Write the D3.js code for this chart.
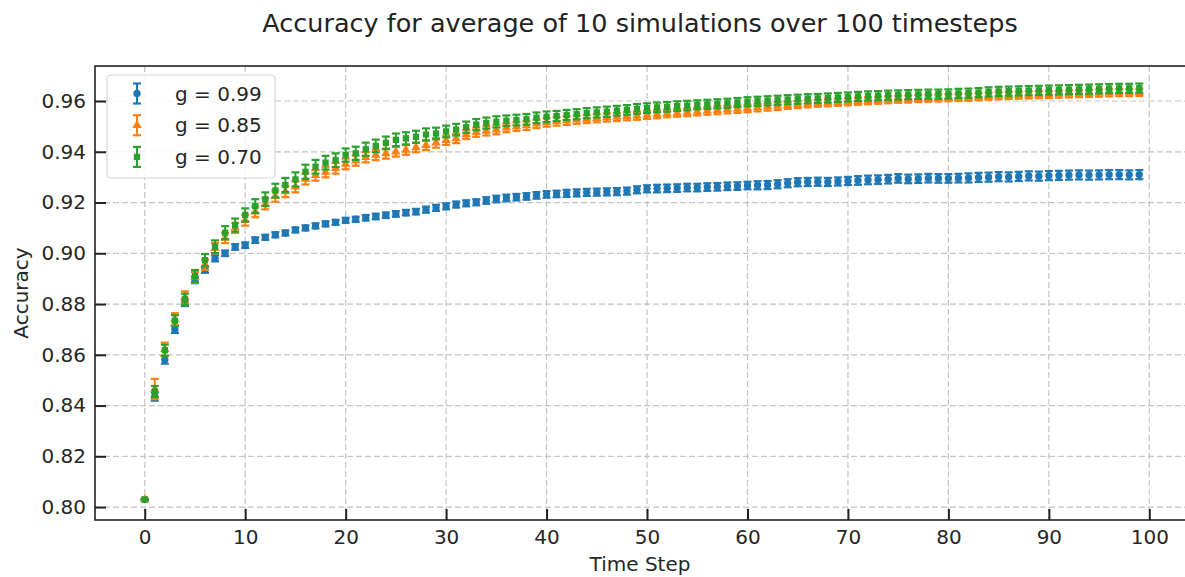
<!DOCTYPE html>
<html>
<head>
<meta charset="utf-8">
<script src="https://cdn.jsdelivr.net/npm/d3@7"></script>
<style>
  body { margin: 0; background: #fff; }
  svg { display: block; font-family: "DejaVu Sans", sans-serif; }
</style>
</head>
<body>
<div id="chart"></div>
<script>
// values, t = 0..99
var steps = d3.range(0, 100);

var acc099 = [
  0.8030, 0.8435, 0.8580, 0.8700, 0.8805, 0.8895, 0.8935, 0.8980, 0.9000, 0.9025,
  0.9032, 0.9052, 0.9063, 0.9073, 0.9080, 0.9092, 0.9100, 0.9108, 0.9116, 0.9122,
  0.9130, 0.9134, 0.9140, 0.9145, 0.9150, 0.9155, 0.9160, 0.9164, 0.9172, 0.9179,
  0.9185, 0.9192, 0.9197, 0.9201, 0.9208, 0.9214, 0.9218, 0.9221, 0.9224, 0.9228,
  0.9232, 0.9234, 0.9236, 0.9238, 0.9240, 0.9241, 0.9242, 0.9243, 0.9245, 0.9250,
  0.9254, 0.9255, 0.9256, 0.9257, 0.9259, 0.9259, 0.9261, 0.9262, 0.9264, 0.9265,
  0.9267, 0.9268, 0.9269, 0.9272, 0.9276, 0.9280, 0.9281, 0.9282, 0.9281, 0.9283,
  0.9285, 0.9287, 0.9289, 0.9290, 0.9292, 0.9295, 0.9293, 0.9294, 0.9296, 0.9295,
  0.9295, 0.9296, 0.9297, 0.9299, 0.9300, 0.9302, 0.9301, 0.9303, 0.9305, 0.9304,
  0.9306, 0.9307, 0.9308, 0.9309, 0.9308, 0.9309, 0.9310, 0.9310, 0.9309, 0.9310
];
var acc085 = [
  0.8030, 0.8465, 0.8622, 0.8740, 0.8828, 0.8905, 0.8955, 0.9020, 0.9060, 0.9100,
  0.9130, 0.9163, 0.9195, 0.9225, 0.9243, 0.9262, 0.9293, 0.9307, 0.9320, 0.9335,
  0.9352, 0.9365, 0.9378, 0.9387, 0.9393, 0.9400, 0.9407, 0.9417, 0.9426, 0.9435,
  0.9445, 0.9452, 0.9468, 0.9477, 0.9482, 0.9487, 0.9494, 0.9499, 0.9503, 0.9510,
  0.9516, 0.9520, 0.9523, 0.9526, 0.9529, 0.9532, 0.9535, 0.9537, 0.9540, 0.9542,
  0.9545, 0.9548, 0.9551, 0.9553, 0.9555, 0.9558, 0.9561, 0.9563, 0.9566, 0.9568,
  0.9571, 0.9574, 0.9577, 0.9580, 0.9583, 0.9586, 0.9589, 0.9591, 0.9593, 0.9595,
  0.9597, 0.9599, 0.9601, 0.9603, 0.9605, 0.9607, 0.9608, 0.9610, 0.9611, 0.9612,
  0.9613, 0.9614, 0.9615, 0.9617, 0.9619, 0.9621, 0.9622, 0.9623, 0.9624, 0.9625,
  0.9626, 0.9627, 0.9628, 0.9629, 0.9630, 0.9631, 0.9632, 0.9633, 0.9633, 0.9634
];
var acc070 = [
  0.8030, 0.8455, 0.8618, 0.8734, 0.8818, 0.8910, 0.8973, 0.9026, 0.9081, 0.9111,
  0.9151, 0.9186, 0.9213, 0.9247, 0.9269, 0.9291, 0.9321, 0.9341, 0.9357, 0.9367,
  0.9387, 0.9394, 0.9410, 0.9423, 0.9435, 0.9447, 0.9453, 0.9459, 0.9468, 0.9472,
  0.9480, 0.9487, 0.9497, 0.9507, 0.9513, 0.9518, 0.9522, 0.9525, 0.9528, 0.9534,
  0.9538, 0.9541, 0.9545, 0.9548, 0.9552, 0.9555, 0.9558, 0.9562, 0.9565, 0.9569,
  0.9572, 0.9575, 0.9577, 0.9580, 0.9582, 0.9585, 0.9587, 0.9589, 0.9591, 0.9594,
  0.9597, 0.9599, 0.9601, 0.9603, 0.9605, 0.9607, 0.9609, 0.9610, 0.9612, 0.9614,
  0.9616, 0.9618, 0.9620, 0.9621, 0.9623, 0.9624, 0.9625, 0.9626, 0.9627, 0.9627,
  0.9628, 0.9630, 0.9631, 0.9633, 0.9636, 0.9638, 0.9639, 0.9640, 0.9641, 0.9642,
  0.9643, 0.9644, 0.9645, 0.9646, 0.9647, 0.9648, 0.9649, 0.9650, 0.9650, 0.9651
];

// half-width of the error bars
var err099 = [
  0.0002, 0.0016, 0.0015, 0.0014, 0.0013, 0.0013, 0.0012, 0.0012, 0.0011, 0.0011,
  0.0011, 0.0011, 0.0010, 0.0010, 0.0010, 0.0010, 0.0010, 0.0010, 0.0010, 0.0010,
  0.0010, 0.0010, 0.0011, 0.0011, 0.0011, 0.0011, 0.0011, 0.0011, 0.0012, 0.0012,
  0.0012, 0.0012, 0.0012, 0.0012, 0.0013, 0.0013, 0.0013, 0.0013, 0.0013, 0.0013,
  0.0013, 0.0013, 0.0014, 0.0014, 0.0014, 0.0014, 0.0014, 0.0014, 0.0014, 0.0014,
  0.0014, 0.0015, 0.0015, 0.0015, 0.0015, 0.0015, 0.0015, 0.0015, 0.0015, 0.0015,
  0.0015, 0.0016, 0.0016, 0.0016, 0.0016, 0.0016, 0.0016, 0.0016, 0.0016, 0.0016,
  0.0016, 0.0017, 0.0017, 0.0017, 0.0017, 0.0017, 0.0017, 0.0017, 0.0017, 0.0017,
  0.0017, 0.0017, 0.0018, 0.0018, 0.0018, 0.0018, 0.0018, 0.0018, 0.0018, 0.0018,
  0.0018, 0.0018, 0.0018, 0.0018, 0.0018, 0.0018, 0.0018, 0.0018, 0.0018, 0.0018
];
var err085 = [
  0.0002, 0.0040, 0.0026, 0.0024, 0.0022, 0.0021, 0.0020, 0.0020, 0.0020, 0.0020,
  0.0021, 0.0021, 0.0022, 0.0022, 0.0022, 0.0022, 0.0022, 0.0021, 0.0021, 0.0021,
  0.0021, 0.0020, 0.0020, 0.0020, 0.0020, 0.0019, 0.0019, 0.0019, 0.0019, 0.0019,
  0.0018, 0.0018, 0.0018, 0.0018, 0.0018, 0.0018, 0.0017, 0.0017, 0.0017, 0.0017,
  0.0017, 0.0017, 0.0017, 0.0016, 0.0016, 0.0016, 0.0016, 0.0016, 0.0016, 0.0016,
  0.0016, 0.0016, 0.0015, 0.0015, 0.0015, 0.0015, 0.0015, 0.0015, 0.0015, 0.0015,
  0.0015, 0.0015, 0.0015, 0.0015, 0.0014, 0.0014, 0.0014, 0.0014, 0.0014, 0.0014,
  0.0014, 0.0014, 0.0014, 0.0014, 0.0014, 0.0014, 0.0014, 0.0014, 0.0014, 0.0014,
  0.0014, 0.0014, 0.0014, 0.0014, 0.0014, 0.0014, 0.0014, 0.0014, 0.0014, 0.0014,
  0.0014, 0.0014, 0.0014, 0.0014, 0.0014, 0.0014, 0.0014, 0.0014, 0.0014, 0.0014
];
var err070 = [
  0.0002, 0.0022, 0.0022, 0.0022, 0.0023, 0.0024, 0.0024, 0.0025, 0.0026, 0.0026,
  0.0026, 0.0027, 0.0027, 0.0027, 0.0028, 0.0028, 0.0028, 0.0027, 0.0027, 0.0027,
  0.0026, 0.0026, 0.0026, 0.0025, 0.0025, 0.0025, 0.0024, 0.0024, 0.0024, 0.0023,
  0.0023, 0.0023, 0.0022, 0.0022, 0.0022, 0.0022, 0.0021, 0.0021, 0.0021, 0.0021,
  0.0021, 0.0020, 0.0020, 0.0020, 0.0020, 0.0020, 0.0020, 0.0019, 0.0019, 0.0019,
  0.0019, 0.0019, 0.0019, 0.0019, 0.0019, 0.0018, 0.0018, 0.0018, 0.0018, 0.0018,
  0.0018, 0.0018, 0.0018, 0.0018, 0.0018, 0.0018, 0.0018, 0.0018, 0.0018, 0.0018,
  0.0018, 0.0018, 0.0018, 0.0018, 0.0018, 0.0018, 0.0018, 0.0018, 0.0018, 0.0018,
  0.0018, 0.0018, 0.0018, 0.0018, 0.0018, 0.0018, 0.0018, 0.0018, 0.0018, 0.0018,
  0.0018, 0.0018, 0.0018, 0.0018, 0.0018, 0.0018, 0.0018, 0.0018, 0.0018, 0.0018
];

var seriesLabels = ["g = 0.99", "g = 0.85", "g = 0.70"];
var seriesColors = ["#1f77b4", "#ff7f0e", "#2ca02c"];
var xTicks = d3.range(0, 101, 10);
var yTicks = [0.80, 0.82, 0.84, 0.86, 0.88, 0.90, 0.92, 0.94, 0.96];

var W = 1185, H = 577;
var box = {left: 95, right: 1189, top: 66, bottom: 520};

var svg = d3.select("#chart").append("svg")
  .attr("width", W)
  .attr("height", H);

svg.append("rect").attr("width", W).attr("height", H).attr("fill", "#fff");

var x = d3.scaleLinear().domain([-4.95, 103.95]).range([box.left, box.right]);
var y = d3.scaleLinear().domain([0.7949, 0.9738]).range([box.bottom, box.top]);

// grid
var grid = svg.append("g")
  .attr("stroke", "#c4c4c4")
  .attr("stroke-width", 1.2)
  .attr("stroke-dasharray", "6,3");
grid.selectAll(".gx").data(xTicks).enter().append("line")
  .attr("x1", d => x(d)).attr("x2", d => x(d))
  .attr("y1", box.top).attr("y2", box.bottom);
grid.selectAll(".gy").data(yTicks).enter().append("line")
  .attr("x1", box.left).attr("x2", box.right)
  .attr("y1", d => y(d)).attr("y2", d => y(d));

// axes, ticks pointing inwards
var axisX = svg.append("g")
  .attr("transform", "translate(0," + box.bottom + ")")
  .call(d3.axisBottom(x).tickValues(xTicks).tickSizeInner(-11).tickSizeOuter(0).tickPadding(10));
var axisY = svg.append("g")
  .attr("transform", "translate(" + box.left + ",0)")
  .call(d3.axisLeft(y).tickValues(yTicks).tickFormat(d3.format(".2f")).tickSizeInner(-11).tickSizeOuter(0).tickPadding(9));

[axisX, axisY].forEach(function(a){
  a.select(".domain").remove();
  a.selectAll(".tick line").attr("stroke", "#222").attr("stroke-width", 2);
  a.selectAll(".tick text")
    .attr("fill", "#262626")
    .style("font-size", "20px")
    .style("font-family", "DejaVu Sans");
});

// spines
svg.append("rect")
  .attr("x", box.left).attr("y", box.top)
  .attr("width", box.right - box.left).attr("height", box.bottom - box.top)
  .attr("fill", "none")
  .attr("stroke", "#222")
  .attr("stroke-width", 1.6);

// errorbar series
var markerShapes = [d3.symbolCircle, d3.symbolTriangle, d3.symbolSquare];
var markerSizes = [42, 38, 40];
var allValues = [acc099, acc085, acc070];
var allErrors = [err099, err085, err070];
var cap = 4;

allValues.forEach(function(vals, k){
  var g = svg.append("g");
  var data = steps.map(function(t, i){ return {t: t, v: vals[i], e: allErrors[k][i]}; });
  var col = seriesColors[k];

  g.selectAll(".bar").data(data).enter().append("line")
    .attr("x1", d => x(d.t)).attr("x2", d => x(d.t))
    .attr("y1", d => y(d.v - d.e)).attr("y2", d => y(d.v + d.e))
    .attr("stroke", col).attr("stroke-width", 2);
  g.selectAll(".capt").data(data).enter().append("line")
    .attr("x1", d => x(d.t) - cap).attr("x2", d => x(d.t) + cap)
    .attr("y1", d => y(d.v + d.e)).attr("y2", d => y(d.v + d.e))
    .attr("stroke", col).attr("stroke-width", 2.2);
  g.selectAll(".capb").data(data).enter().append("line")
    .attr("x1", d => x(d.t) - cap).attr("x2", d => x(d.t) + cap)
    .attr("y1", d => y(d.v - d.e)).attr("y2", d => y(d.v - d.e))
    .attr("stroke", col).attr("stroke-width", 2.2);
  g.selectAll(".pt").data(data).enter().append("path")
    .attr("d", d3.symbol().type(markerShapes[k]).size(markerSizes[k]))
    .attr("transform", d => "translate(" + x(d.t) + "," + y(d.v) + ")")
    .attr("fill", col);
});

// title and axis labels
svg.append("text")
  .attr("x", (box.left + box.right) / 2 - 2)
  .attr("y", 32)
  .attr("text-anchor", "middle")
  .style("font-size", "25.5px")
  .attr("fill", "#222")
  .text("Accuracy for average of 10 simulations over 100 timesteps");

svg.append("text")
  .attr("x", (box.left + box.right) / 2 - 2)
  .attr("y", 571)
  .attr("text-anchor", "middle")
  .style("font-size", "20px")
  .attr("fill", "#262626")
  .text("Time Step");

svg.append("text")
  .attr("transform", "translate(28," + ((box.top + box.bottom) / 2) + ") rotate(-90)")
  .attr("text-anchor", "middle")
  .style("font-size", "20px")
  .attr("fill", "#262626")
  .text("Accuracy");

// legend
var legend = svg.append("g");
legend.append("rect")
  .attr("x", 107).attr("y", 75)
  .attr("width", 168).attr("height", 103)
  .attr("rx", 4)
  .attr("fill", "#fff").attr("fill-opacity", 0.85)
  .attr("stroke", "#d6d6d6").attr("stroke-width", 1.2);

var rows = legend.selectAll(".row").data(seriesLabels).enter().append("g")
  .attr("transform", (d, i) => "translate(137," + (93.5 + i * 31.7) + ")");
rows.append("line")
  .attr("y1", -10).attr("y2", 10)
  .attr("stroke", (d, i) => seriesColors[i]).attr("stroke-width", 2);
rows.append("line")
  .attr("x1", -cap).attr("x2", cap).attr("y1", -10).attr("y2", -10)
  .attr("stroke", (d, i) => seriesColors[i]).attr("stroke-width", 2.2);
rows.append("line")
  .attr("x1", -cap).attr("x2", cap).attr("y1", 10).attr("y2", 10)
  .attr("stroke", (d, i) => seriesColors[i]).attr("stroke-width", 2.2);
rows.append("path")
  .attr("d", (d, i) => d3.symbol().type(markerShapes[i]).size(markerSizes[i])())
  .attr("fill", (d, i) => seriesColors[i]);
rows.append("text")
  .attr("x", 38)
  .attr("y", 7)
  .style("font-size", "20px")
  .attr("fill", "#262626")
  .text(d => d);
</script>
</body>
</html>
